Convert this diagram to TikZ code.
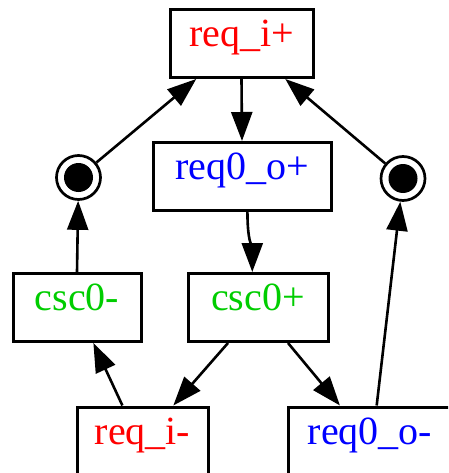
\documentclass[tikz,border=0pt]{standalone}
\usepackage{fontspec}
\setmainfont{Liberation Serif}
\usetikzlibrary{arrows.meta,calc}
\definecolor{sigred}{RGB}{255,0,0}
\definecolor{sigblue}{RGB}{0,0,255}
\definecolor{siggreen}{RGB}{0,205,0}

\begin{document}
\begin{tikzpicture}[x=1pt,y=-1pt,
  trans/.style={draw, line width=3pt, rectangle, inner sep=0pt,
    minimum height=68pt, font=\fontsize{40}{42}\selectfont,
    text height=0.72em, text depth=0.12em},
  place/.style={draw, circle, line width=2.7pt, minimum size=44pt, inner sep=0pt},
  token/.style={fill, circle, minimum size=29pt, inner sep=0pt},
  arc/.style={line width=2.6pt, -{Triangle[length=29pt,width=21pt]}}
]
\useasboundingbox (0,0) rectangle (448,473);
\clip (0,0) rectangle (448,473);

% transitions
\node[trans, minimum width=143pt, text=sigred]   (reqip) at (241.5,43.5) {req\_i+};
\node[trans, minimum width=178pt, text=sigblue]  (reqop) at (242,176.5)  {req0\_o+};
\node[trans, minimum width=128pt, text=siggreen] (cscm)  at (77,307.5)   {csc0-};
\node[trans, minimum width=140pt, text=siggreen] (cscp)  at (258,307.5)  {csc0+};
\node[trans, minimum width=131pt, text=sigred]   (reqim) at (142.5,441) {req\_i-};
\node[trans, minimum width=164pt, text=sigblue]  (reqom) at (370,441)  {req0\_o-};

% marked places
\node[place] (pl) at (78.5,177.5) {};
\node[token] (pltok) at (pl) {};
\node[place] (pr) at (403,178.5) {};
\node[token] (prtok) at (pr) {};

% arcs
\draw[arc] (reqip.south) -- (reqop.north);
\draw[arc] ($(reqop.south west)!0.53!(reqop.south east)$)
  .. controls ++(0,30) and ++(0,-24) ..
  ($(cscp.north west)!0.46!(cscp.north east)$);
\draw[arc] ($(cscp.south west)!0.29!(cscp.south east)$) -- ($(reqim.north west)!0.73!(reqim.north east)$);
\draw[arc] ($(cscp.south west)!0.71!(cscp.south east)$) -- ($(reqom.north west)!0.32!(reqom.north east)$);
\draw[arc] ($(reqim.north west)!0.35!(reqim.north east)$) -- ($(cscm.south west)!0.625!(cscm.south east)$);
\draw[arc] (cscm.north) -- (pl);
\draw[arc] (pl) -- ($(reqip.south west)!0.19!(reqip.south east)$);
\draw[arc] ($(reqom.north west)!0.54!(reqom.north east)$) -- (pr);
\draw[arc] (pr) -- ($(reqip.south west)!0.80!(reqip.south east)$);
\end{tikzpicture}
\end{document}
